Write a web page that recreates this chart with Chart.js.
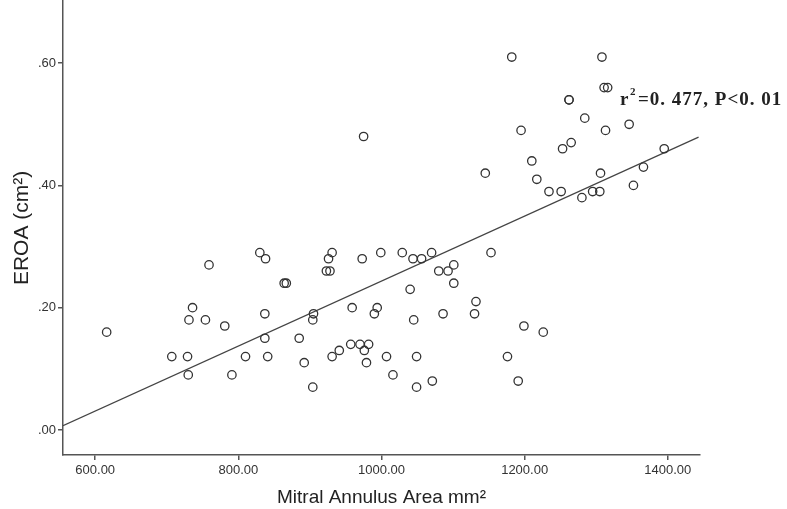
<!DOCTYPE html>
<html>
<head>
<meta charset="utf-8">
<script src="https://cdn.jsdelivr.net/npm/chart.js@4"></script>
<style>
  html, body { margin: 0; padding: 0; background: #fff; overflow: hidden; }
  #wrap { width: 787px; height: 509px; overflow: hidden; }
  #myChart { margin-top: -9px; display: block; }
</style>
</head>
<body>
<div id="wrap"><canvas id="myChart" width="787" height="518"></canvas></div>
<script>
// scatter data
var areaValues = [616, 707, 729, 730, 736, 731, 754, 759, 781, 791, 810, 830, 838, 837, 837, 841, 864, 867,
    885, 892, 904, 905, 904, 923, 928, 926, 931, 931, 941, 957, 959, 970, 973, 976, 982, 979, 990, 994, 999,
    1007, 1016, 1029, 1044, 1040, 1045, 1049, 1049, 1056, 1070, 1071, 1080, 1093, 1101, 1101, 1086, 1132, 1130,
    1153, 1199, 1226, 1176, 1191, 975,
    1182, 1308, 1311, 1316, 1262, 1262, 1284, 1195, 1313, 1346, 1265, 1253, 1210, 1395, 1145, 1217, 1306, 1366,
    1352, 1234, 1251, 1280, 1295, 1305];
var eroaValues = [0.16, 0.12, 0.12, 0.09, 0.20, 0.18, 0.18, 0.27, 0.17, 0.09, 0.12, 0.29, 0.28, 0.19, 0.15, 0.12, 0.24, 0.24,
    0.15, 0.11, 0.07, 0.19, 0.18, 0.26, 0.26, 0.28, 0.29, 0.12, 0.13, 0.14, 0.20, 0.14, 0.28, 0.13, 0.14, 0.11, 0.19, 0.20, 0.29,
    0.12, 0.09, 0.29, 0.28, 0.23, 0.18, 0.12, 0.07, 0.28, 0.29, 0.08, 0.26, 0.26, 0.27, 0.24, 0.19, 0.21, 0.19,
    0.29, 0.17, 0.16, 0.12, 0.08, 0.48,
    0.61, 0.61, 0.56, 0.56, 0.54, 0.54, 0.51, 0.49, 0.49, 0.50, 0.47, 0.46, 0.44, 0.46, 0.42, 0.41, 0.42, 0.43,
    0.40, 0.39, 0.39, 0.38, 0.39, 0.39];

// fitted line end points
var fitX = [555, 1443];
var fitY = [0.007, 0.479];

var xTicks = [600, 800, 1000, 1200, 1400];
var yTicks = [0, 0.2, 0.4, 0.6];

var scatterPoints = [];
for (var i = 0; i < areaValues.length; i++) {
    scatterPoints.push({ x: areaValues[i], y: eroaValues[i] });
}
var fitPoints = [];
for (var j = 0; j < fitX.length; j++) {
    fitPoints.push({ x: fitX[j], y: fitY[j] });
}

var axisColor = '#555';

// canvas is shifted up 9px, so text y values include that offset
var annotationText = {
    id: 'annotationText',
    afterDraw: function (chart) {
        var ctx = chart.ctx;
        ctx.save();
        ctx.fillStyle = '#222';
        ctx.textBaseline = 'alphabetic';
        ctx.letterSpacing = '1px';
        ctx.font = 'bold 19px "Liberation Serif", serif';
        ctx.fillText('r', 620, 114);
        ctx.font = 'bold 11px "Liberation Serif", serif';
        ctx.fillText('2', 630, 104);
        ctx.font = 'bold 19px "Liberation Serif", serif';
        ctx.fillText('=0. 477, P<0. 01', 638, 114);
        ctx.restore();
    }
};

var ctx = document.getElementById('myChart');
var myChart = new Chart(ctx, {
    type: 'scatter',
    data: {
        datasets: [{
            type: 'line',
            data: fitPoints,
            borderColor: '#444',
            borderWidth: 1.2,
            pointRadius: 0,
            fill: false,
            order: 2
        }, {
            data: scatterPoints,
            pointStyle: 'circle',
            pointRadius: 4.2,
            pointBorderWidth: 1.3,
            pointBorderColor: '#333',
            pointBackgroundColor: 'rgba(255,255,255,0)',
            order: 1
        }]
    },
    options: {
        responsive: false,
        animation: false,
        layout: { padding: { top: 0, right: 87, bottom: 0, left: 0 } },
        plugins: {
            legend: { display: false },
            tooltip: { enabled: false }
        },
        scales: {
            x: {
                type: 'linear',
                min: 555,
                max: 1445,
                afterBuildTicks: function (axis) {
                    axis.ticks = xTicks.map(function (v) { return { value: v }; });
                },
                afterFit: function (axis) { axis.height = 54; },
                border: { display: true, color: axisColor, width: 1.5 },
                grid: { display: true, drawOnChartArea: false, drawTicks: true, tickLength: 5, color: axisColor, lineWidth: 1.5 },
                ticks: {
                    color: '#333',
                    font: { family: 'Liberation Sans, Arial', size: 13 },
                    padding: 3,
                    maxRotation: 0,
                    callback: function (v) { return v.toFixed(2); }
                },
                title: {
                    display: true,
                    text: 'Mitral Annulus Area mm²',
                    color: '#222',
                    font: { family: 'Liberation Sans, Arial', size: 19 },
                    padding: { top: 2, bottom: 0 }
                }
            },
            y: {
                type: 'linear',
                min: -0.041,
                max: 0.702,
                afterBuildTicks: function (axis) {
                    axis.ticks = yTicks.map(function (v) { return { value: v }; });
                },
                afterFit: function (axis) { axis.width = 63; },
                border: { display: true, color: axisColor, width: 1.5 },
                grid: { display: true, drawOnChartArea: false, drawTicks: true, tickLength: 5, color: axisColor, lineWidth: 1.5 },
                ticks: {
                    color: '#333',
                    font: { family: 'Liberation Sans, Arial', size: 13 },
                    padding: 2,
                    callback: function (v) { return v.toFixed(2).replace(/^0/, ''); }
                },
                title: {
                    display: true,
                    text: 'EROA (cm²)',
                    color: '#222',
                    font: { family: 'Liberation Sans, Arial', size: 21 },
                    padding: { top: 10, bottom: 0 }
                }
            }
        }
    },
    plugins: [annotationText]
});
</script>
</body>
</html>
